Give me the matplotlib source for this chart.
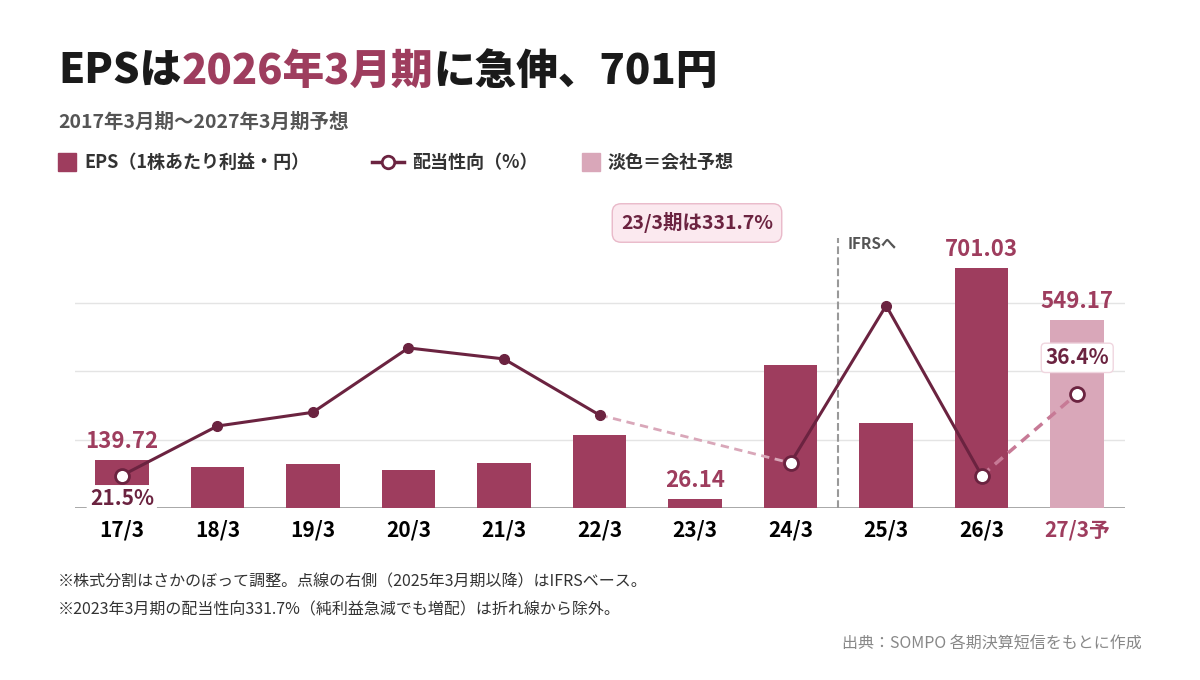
import matplotlib.pyplot as plt
from matplotlib.patches import Rectangle
from matplotlib.lines import Line2D

plt.rcParams['font.family'] = ['Noto Sans CJK JP', 'DejaVu Sans']

years = ['17/3', '18/3', '19/3', '20/3', '21/3', '22/3', '23/3', '24/3', '25/3', '26/3', '27/3予']
eps = [139.72, 120, 128, 111, 131, 213, 26.14, 418, 248, 701.03, 549.17]
payout = [21.5, 30.5, 33.0, 44.7, 42.7, 32.5, None, 23.8, 52.4, 21.5, 36.4]

DARK = '#9E3D5E'
LIGHT = '#D9A7B9'
LINE = '#6B2340'
TEXT = '#1a1a1a'

fig = plt.figure(figsize=(12, 6.8), dpi=100)
ax = fig.add_axes([75/1200, 172/680, 1050/1200, 308/680])
ax.set_xlim(-0.49, 10.5)
ax.set_ylim(0, 900)
for s in ax.spines.values():
    s.set_visible(False)
ax.set_yticks([])
ax.set_xticks(range(len(years)))
ax.set_xticklabels(years, fontsize=15, fontweight='bold')
ax.tick_params(axis='x', length=0, pad=8)
ax.get_xticklabels()[-1].set_color(DARK)
for g in [200, 400, 600]:
    ax.axhline(g, color='#e4e4e4', lw=1, zorder=0)
ax.axhline(0, color='#999999', lw=1.2, zorder=1)

colors = [DARK] * 10 + [LIGHT]
ax.bar(range(len(years)), eps, width=0.56, color=colors, zorder=2)
for i in [0, 6, 9, 10]:
    ax.text(i, eps[i] + 22, f'{eps[i]:.2f}', ha='center', va='bottom',
            fontsize=16, fontweight='bold', color=DARK, zorder=5)

ax.plot([7.5, 7.5], [0, 790], ls='--', color='#999999', lw=1.5, zorder=1)
ax.text(7.6, 770, 'IFRSへ', fontsize=11, fontweight='bold', color='#555555', va='center')

ax2 = ax.twinx()
ax2.set_ylim(15.6, 71.6)
ax2.set_yticks([])
for s in ax2.spines.values():
    s.set_visible(False)

x = list(range(len(years)))
ax2.plot(x[0:6], payout[0:6], color=LINE, lw=2.2, zorder=3)
ax2.plot([5, 7], [payout[5], payout[7]], color='#D9A7B9', lw=2, ls=(0, (3, 2)), zorder=3)
ax2.plot(x[7:10], payout[7:10], color=LINE, lw=2.2, zorder=3)
ax2.plot([9, 10], [payout[9], payout[10]], color='#C77A96', lw=2.5, ls=(0, (3, 2)), zorder=3)
for i in [1, 2, 3, 4, 5]:
    ax2.plot(i, payout[i], 'o', color=LINE, ms=7, zorder=4)
for i in [0, 7, 8, 9, 10]:
    if i == 8:
        ax2.plot(i, payout[i], 'o', color=LINE, ms=7, zorder=4)
    else:
        ax2.plot(i, payout[i], 'o', mfc='white', mec=LINE, mew=2, ms=10, zorder=4)
ax2.text(0, payout[0] - 4.2, '21.5%', ha='center', va='center', fontsize=15,
         fontweight='bold', color=LINE, zorder=6,
         bbox=dict(boxstyle='round,pad=0.15', fc='white', ec='none'))
ax2.text(10, payout[10] + 6.5, '36.4%', ha='center', va='center', fontsize=15,
         fontweight='bold', color=LINE, zorder=6,
         bbox=dict(boxstyle='round,pad=0.2', fc='white', ec='#F0D6DF'))

# titles
t1 = fig.text(58/1200, 1 - 72/680, 'EPSは', fontsize=30, fontweight='heavy', color=TEXT, va='center')
fig.canvas.draw()
r = fig.canvas.get_renderer()
bb = t1.get_window_extent(r)
t2 = fig.text(bb.x1/1200, 1 - 72/680, '2026年3月期', fontsize=30, fontweight='heavy', color=DARK, va='center')
bb2 = t2.get_window_extent(r)
fig.text(bb2.x1/1200, 1 - 72/680, 'に急伸、701円', fontsize=30, fontweight='heavy', color=TEXT, va='center')
fig.text(58/1200, 1 - 122/680, '2017年3月期〜2027年3月期予想', fontsize=14, fontweight='bold',
         color='#555555', va='center')

# legend
ly = 1 - 162/680
fig.patches.append(Rectangle((58/1200, ly - 9/680), 18/1200, 18/680, color=DARK, transform=fig.transFigure))
fig.text(84/1200, ly, 'EPS（1株あたり利益・円）', fontsize=13, fontweight='bold', color='#333333', va='center')
fig.lines.append(Line2D([372/1200, 404/1200], [ly, ly], color=LINE, lw=2.5, transform=fig.transFigure))
fig.lines.append(Line2D([388/1200], [ly], marker='o', mfc='white', mec=LINE, mew=2, ms=9, transform=fig.transFigure))
fig.text(412/1200, ly, '配当性向（%）', fontsize=13, fontweight='bold', color='#333333', va='center')
fig.patches.append(Rectangle((582/1200, ly - 9/680), 18/1200, 18/680, color=LIGHT, transform=fig.transFigure))
fig.text(608/1200, ly, '淡色＝会社予想', fontsize=13, fontweight='bold', color='#333333', va='center')

fig.text(697/1200, 1 - 223/680, '23/3期は331.7%', fontsize=14, fontweight='bold', color=LINE,
         ha='center', va='center',
         bbox=dict(boxstyle='round,pad=0.45', fc='#FBE9EF', ec='#E9B9C9'))

fig.text(58/1200, 1 - 582/680, '※株式分割はさかのぼって調整。点線の右側（2025年3月期以降）はIFRSベース。',
         fontsize=11.5, color='#333333', va='center')
fig.text(58/1200, 1 - 610/680, '※2023年3月期の配当性向331.7%（純利益急減でも増配）は折れ線から除外。',
         fontsize=11.5, color='#333333', va='center')
fig.text(1142/1200, 1 - 644/680, '出典：SOMPO 各期決算短信をもとに作成', fontsize=11.5,
         color='#888888', ha='right', va='center')

fig.savefig('out.png', dpi=100, facecolor='white')
